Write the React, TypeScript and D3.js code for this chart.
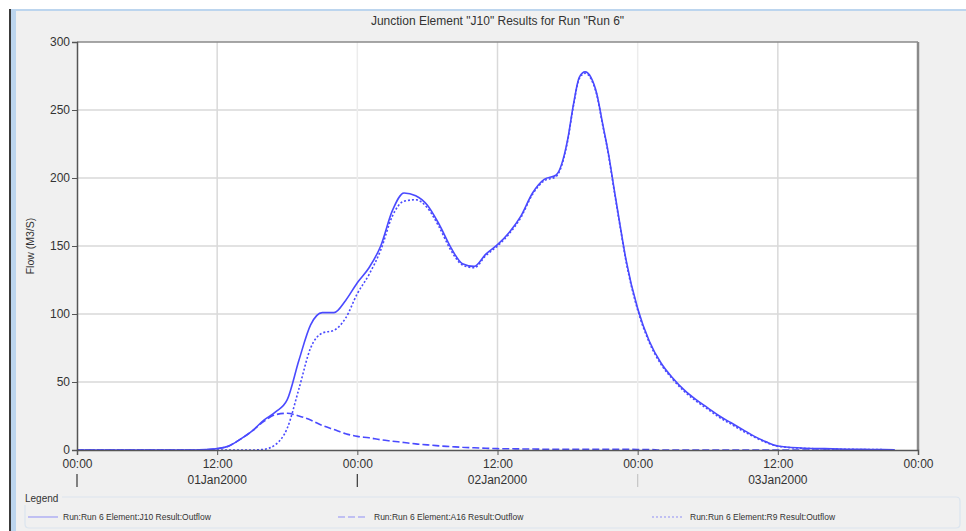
import React, { useRef, useEffect } from 'react';
import * as d3 from 'd3';

// hours after 01Jan2000 00:00
const hours = [0, 10, 11, 12, 13, 14, 15, 16, 17, 18, 19, 20, 21, 22, 23, 24, 25, 26, 27, 28, 29, 30,
  31, 32, 33, 34, 35, 36, 37, 38, 39, 40, 41, 42, 42.5, 43, 43.5, 44, 44.5, 45, 45.5, 46, 46.5, 47,
  48, 49, 50, 51, 52, 53, 54, 55, 56, 57, 58, 59, 60, 62, 64, 66, 68, 70];

const j10Outflow = [0, 0, 0.3, 1, 3, 8, 14, 22, 28, 37, 66, 92, 101, 101, 110, 123, 134, 150, 176, 189, 187, 180,
  166, 149, 137, 135, 144, 151, 160, 172, 189, 199, 202, 228, 254, 274, 278, 274, 262, 240, 218, 191, 165, 140,
  104, 80, 64, 53, 44, 37, 31, 25, 20, 15, 10, 6, 3, 1.5, 1, 0.6, 0.4, 0.2];

const a16Outflow = [0, 0, 0.3, 1, 3, 8, 14, 21, 26, 27, 25, 22, 18, 15, 12, 10, 9, 7.5, 6.5, 5.5, 4.5, 3.8,
  3, 2.5, 2, 1.6, 1.3, 1, 0.9, 0.8, 0.7, 0.6, 0.6, 0.5, 0.5, 0.5, 0.5, 0.5, 0.5, 0.5, 0.5, 0.5, 0.5, 0.5,
  0.4, 0.4, 0, 0, 0, 0, 0, 0, 0, 0, 0, 0, 0, 0, 0, 0, 0, 0];

const r9Outflow = [0, 0, 0, 0, 0, 0, 0, 0.5, 4, 16, 45, 75, 86, 88, 97, 115, 129, 147, 172, 183, 184, 178,
  164, 147, 136, 134, 143, 150, 159, 171, 188, 198, 201, 227, 253, 273, 277, 273, 261, 239, 217, 190, 164, 139,
  103, 79, 63, 52, 43, 36, 30, 24, 19, 14, 9.5, 5.5, 2.8, 1.3, 0.8, 0.5, 0.3, 0.2];

const yTicks = [0, 50, 100, 150, 200, 250, 300];
const dateLabels = ['01Jan2000', '02Jan2000', '03Jan2000'];

const legendLabels = [
  'Run:Run 6 Element:J10 Result:Outflow',
  'Run:Run 6 Element:A16 Result:Outflow',
  'Run:Run 6 Element:R9 Result:Outflow',
];

const App = () => {
  const svgRef = useRef<SVGSVGElement | null>(null);

  useEffect(() => {
    const width = 966;
    const height = 531;
    const margin = { top: 42, right: 48, bottom: 81, left: 77 };
    const font = '"Liberation Sans", Arial, sans-serif';
    const blue = '#4a4aff';

    const svg = d3.select(svgRef.current)
      .attr('width', width)
      .attr('height', height);

    svg.selectAll('*').remove();

    // window background + frame
    svg.append('rect').attr('width', width).attr('height', height).attr('fill', '#f0f0f0');
    svg.append('rect').attr('x', 0).attr('y', 0).attr('width', width).attr('height', 9).attr('fill', '#ffffff');
    svg.append('rect').attr('x', 10).attr('y', 9).attr('width', width - 10).attr('height', 2).attr('fill', '#bcd5ee');
    svg.append('rect').attr('x', 0).attr('y', 9).attr('width', 9).attr('height', height).attr('fill', '#ffffff');
    svg.append('rect').attr('x', 9).attr('y', 9).attr('width', 2).attr('height', height).attr('fill', '#3a3a3a');
    svg.append('rect').attr('x', 11).attr('y', 11).attr('width', 5).attr('height', height).attr('fill', '#bcd5ee');

    const x = d3.scaleLinear()
      .domain([0, 72])
      .range([margin.left, width - margin.right]);

    const y = d3.scaleLinear()
      .domain([0, 300])
      .range([height - margin.bottom, margin.top]);

    // plot area
    svg.append('rect')
      .attr('x', margin.left)
      .attr('y', margin.top)
      .attr('width', x(72) - x(0))
      .attr('height', y(0) - y(300))
      .attr('fill', '#ffffff');

    // grid
    svg.append('g')
      .selectAll('line')
      .data(yTicks.slice(1, -1))
      .join('line')
      .attr('x1', x(0))
      .attr('x2', x(72))
      .attr('y1', d => y(d))
      .attr('y2', d => y(d))
      .attr('stroke', '#d9d9d9')
      .attr('stroke-width', 1.5);

    svg.append('g')
      .selectAll('line')
      .data(d3.range(12, 72, 12))
      .join('line')
      .attr('x1', d => x(d))
      .attr('x2', d => x(d))
      .attr('y1', y(300))
      .attr('y2', y(0))
      .attr('stroke', (d: number) => (d % 24 === 0 ? '#ececec' : '#d9d9d9'))
      .attr('stroke-width', 1.5);

    // series
    const line = d3.line<number>()
      .x((_, i) => x(hours[i]))
      .y(d => y(d))
      .curve(d3.curveMonotoneX);

    const series = [
      { values: j10Outflow, dash: null },
      { values: a16Outflow, dash: '7,3' },
      { values: r9Outflow, dash: '2,2' },
    ];

    series.forEach(s => {
      svg.append('path')
        .datum(s.values)
        .attr('fill', 'none')
        .attr('stroke', blue)
        .attr('stroke-width', 1.6)
        .attr('stroke-dasharray', s.dash)
        .attr('d', line);
    });

    // frame
    svg.append('line')
      .attr('x1', x(0)).attr('x2', x(72)).attr('y1', y(300)).attr('y2', y(300))
      .attr('stroke', '#8a8a8a').attr('stroke-width', 1.5);
    svg.append('line')
      .attr('x1', x(72)).attr('x2', x(72)).attr('y1', y(300)).attr('y2', y(0))
      .attr('stroke', '#8a8a8a').attr('stroke-width', 2.5);

    // axes
    const yAxis = svg.append('g')
      .attr('transform', `translate(${margin.left},0)`)
      .call(d3.axisLeft(y).tickValues(yTicks).tickSize(5).tickPadding(2));
    yAxis.select('.domain').attr('stroke', '#555').attr('stroke-width', 1.5);
    yAxis.selectAll('.tick line').attr('stroke', '#555');
    yAxis.selectAll('.tick text')
      .attr('fill', '#333')
      .attr('font-family', font)
      .attr('font-size', 12);

    const xAxis = svg.append('g')
      .attr('transform', `translate(0,${height - margin.bottom})`)
      .call(d3.axisBottom(x).tickValues(d3.range(0, 73, 12)).tickSize(5).tickPadding(4)
        .tickFormat(d => ((d as number) % 24 === 0 ? '00:00' : '12:00')));
    xAxis.select('.domain').attr('stroke', '#555').attr('stroke-width', 1.5);
    xAxis.selectAll('.tick line').attr('stroke', '#555');
    xAxis.selectAll('.tick text')
      .attr('fill', '#333')
      .attr('font-family', font)
      .attr('font-size', 12);

    // date row
    svg.append('g')
      .selectAll('text')
      .data(dateLabels)
      .join('text')
      .attr('x', (_, i) => x(12 + i * 24))
      .attr('y', 484)
      .attr('text-anchor', 'middle')
      .attr('fill', '#333')
      .attr('font-family', font)
      .attr('font-size', 12)
      .text(d => d);

    svg.append('g')
      .selectAll('line')
      .data([0, 24, 48])
      .join('line')
      .attr('x1', d => x(d))
      .attr('x2', d => x(d))
      .attr('y1', 474)
      .attr('y2', 487)
      .attr('stroke', (d: number) => (d === 48 ? '#c8c8c8' : '#444'))
      .attr('stroke-width', 1.3);

    // title
    svg.append('text')
      .attr('x', (x(0) + x(72)) / 2)
      .attr('y', 25)
      .attr('text-anchor', 'middle')
      .attr('fill', '#333')
      .attr('font-family', font)
      .attr('font-size', 12)
      .text('Junction Element "J10" Results for Run "Run 6"');

    // y label
    svg.append('text')
      .attr('transform', `translate(34,${(y(0) + y(300)) / 2}) rotate(-90)`)
      .attr('text-anchor', 'middle')
      .attr('fill', '#333')
      .attr('font-family', font)
      .attr('font-size', 10.5)
      .text('Flow (M3/S)');

    // legend
    svg.append('path')
      .attr('d', 'M62,497 H956 Q960,497 960,501 V524 Q960,528 956,528 H29 Q25,528 25,524 V505')
      .attr('fill', 'none')
      .attr('stroke', '#dbe4ee')
      .attr('stroke-width', 1.2);
    svg.append('text')
      .attr('x', 25)
      .attr('y', 502)
      .attr('fill', '#333')
      .attr('font-family', font)
      .attr('font-size', 10)
      .text('Legend');

    const legendX = [28, 338, 652];
    const legend = svg.append('g')
      .selectAll('g')
      .data(legendLabels)
      .join('g')
      .attr('transform', (_, i) => `translate(${legendX[i]},517)`);
    legend.append('line')
      .attr('x1', 0)
      .attr('x2', 30)
      .attr('stroke', '#8f8ff5')
      .attr('stroke-width', 1)
      .attr('stroke-dasharray', (_, i) => series[i].dash);
    legend.append('text')
      .attr('x', (_, i) => (i === 0 ? 35 : i === 1 ? 36 : 38))
      .attr('y', 3)
      .attr('fill', '#333')
      .attr('font-family', font)
      .attr('font-size', 8.5)
      .text(d => d);
  }, []);

  return (
    <svg ref={svgRef} style={{ position: 'absolute', left: 0, top: 0, display: 'block' }}></svg>
  );
};

export default App;
